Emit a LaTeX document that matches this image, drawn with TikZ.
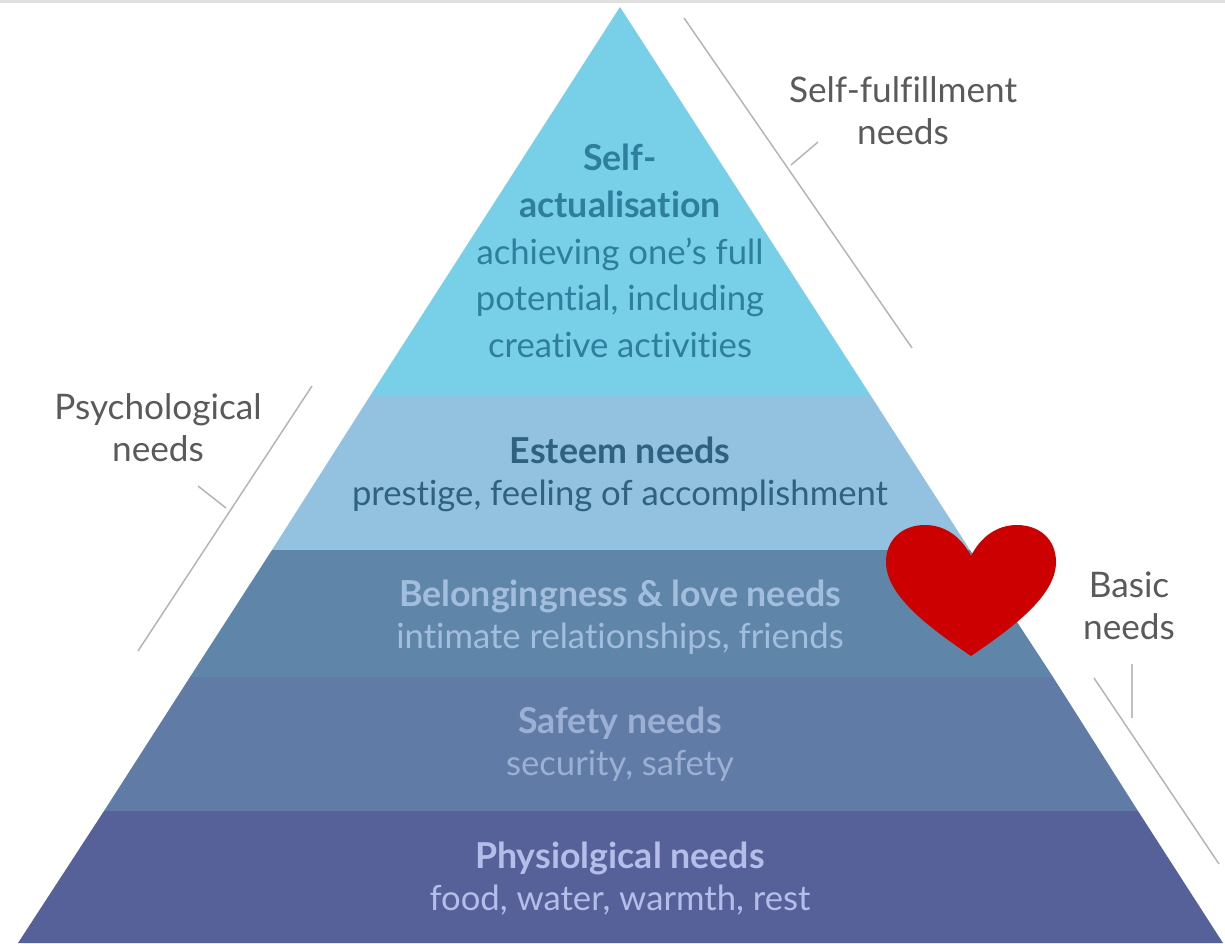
\documentclass[tikz,border=0pt]{standalone}
\usepackage{fontspec}
\setmainfont{Lato}[Ligatures=NoCommon]
\definecolor{tierA}{HTML}{78CFE8}
\definecolor{tierB}{HTML}{92C2E0}
\definecolor{tierC}{HTML}{5F86A9}
\definecolor{tierD}{HTML}{607CA6}
\definecolor{tierE}{HTML}{566199}
\definecolor{inkA}{HTML}{2F7F9C}
\definecolor{inkB}{HTML}{2F6280}
\definecolor{inkC}{HTML}{A3BEDC}
\definecolor{inkD}{HTML}{9BB0D2}
\definecolor{inkE}{HTML}{B4BEE8}
\definecolor{labelgrey}{HTML}{5A5A5A}
\definecolor{rulegrey}{HTML}{B4B4B4}
\definecolor{heartred}{HTML}{CC0000}
\newcommand{\tierhead}[1]{{\fontsize{26.8}{31.5}\selectfont\bfseries #1}}
\begin{document}
\begin{tikzpicture}[x=0.75pt,y=-0.75pt,
  tiertext/.style={align=center,inner sep=0pt,font=\fontsize{26}{31.5}\selectfont},
  bigtext/.style={align=center,inner sep=0pt,font=\fontsize{26}{35}\selectfont},
  sidetext/.style={align=center,inner sep=0pt,text=labelgrey,font=\fontsize{26.4}{31.5}\selectfont},
  rule/.style={draw=rulegrey,line width=1.1pt}]
\useasboundingbox (0,0) rectangle (1225,943);
\fill[white] (0,0) rectangle (1225,943);
\fill[black!12] (0,0) rectangle (1225,2.5);
% tiers
\fill[tierA] (620,7) -- (871,396) -- (370,396) -- cycle;
\fill[tierB] (370,396) -- (871,396) -- (970,550) -- (272,550) -- cycle;
\fill[tierC] (272,550) -- (970,550) -- (1053,677) -- (190,677) -- cycle;
\fill[tierD] (190,677) -- (1053,677) -- (1138,811) -- (104,811) -- cycle;
\fill[tierE] (104,811) -- (1138,811) -- (1223,943) -- (18,943) -- cycle;
% tier texts
\node[bigtext,text=inkA] (selfact) at (620,251) {\tierhead{Self-}\\\tierhead{actualisation}\\achieving one’s full\\potential, including\\creative activities};
\node[tiertext,text=inkB] (esteem) at (620,474) {\tierhead{Esteem needs}\\prestige, feeling of accomplishment};
\node[tiertext,text=inkC] (love) at (620,617) {\tierhead{Belongingness \& love needs}\\intimate relationships, friends};
\node[tiertext,text=inkD] (safety) at (620,744) {\tierhead{Safety needs}\\security, safety};
\node[tiertext,text=inkE] (physio) at (620,879) {\tierhead{Physiolgical needs}\\food, water, warmth, rest};
% side labels
\node[sidetext] (fulfil) at (903,111) {Self-fulfillment\\needs};
\node[sidetext] (psych) at (158,428) {Psychological\\needs};
\node[sidetext] (basic) at (1129,606) {Basic\\needs};
% brackets
\coordinate (fa) at (684,18); \coordinate (fb) at (912,348);
\coordinate (fc) at (791,165); \coordinate (fd) at (818,142);
\coordinate (pa) at (312,386); \coordinate (pb) at (138,651);
\coordinate (pc) at (226,508); \coordinate (pd) at (198,486);
\coordinate (ba) at (1094,678); \coordinate (bb) at (1219,864);
\coordinate (bc) at (1132,718); \coordinate (bd) at (1132,664);
\draw[rule] (fa) -- (fb);
\draw[rule] (fc) -- (fd);
\draw[rule] (pa) -- (pb);
\draw[rule] (pc) -- (pd);
\draw[rule] (ba) -- (bb);
\draw[rule,black!25] (bc) -- (bd);
% heart
\fill[heartred] (971,656)
  .. controls (930,628) and (886,596) .. (886,562)
  .. controls (886,539) and (903,525) .. (925,525)
  .. controls (946,525) and (962,538) .. (971,556)
  .. controls (980,538) and (996,525) .. (1017,525)
  .. controls (1039,525) and (1056,539) .. (1056,562)
  .. controls (1056,596) and (1012,628) .. (971,656) -- cycle;
\end{tikzpicture}
\end{document}
